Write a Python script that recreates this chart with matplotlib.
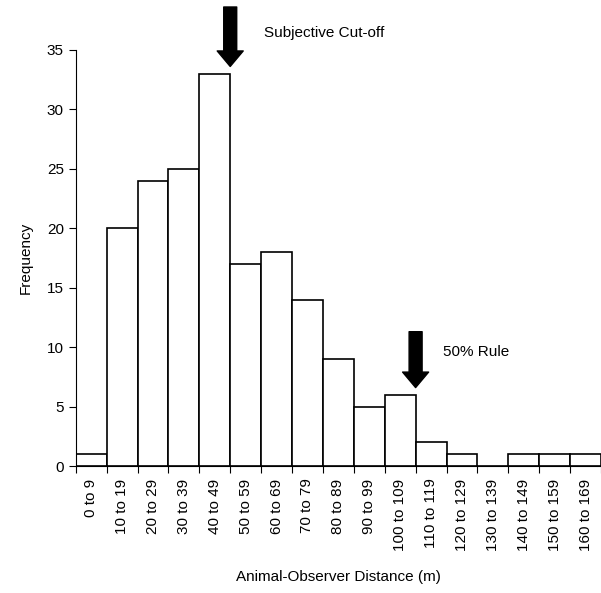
import matplotlib.pyplot as plt
import numpy as np

plt.rcParams['font.family'] = ['Liberation Sans', 'DejaVu Sans']

# bins and counts
bins = ['0 to 9', '10 to 19', '20 to 29', '30 to 39', '40 to 49', '50 to 59',
        '60 to 69', '70 to 79', '80 to 89', '90 to 99', '100 to 109',
        '110 to 119', '120 to 129', '130 to 139', '140 to 149', '150 to 159',
        '160 to 169']
counts = [1, 20, 24, 25, 33, 17, 18, 14, 9, 5, 6, 2, 1, 0, 1, 1, 1]

# arrows: (bin boundary, tip, tail) and labels
cutoff_arrow = (5, 33.6, 38.6)
rule_arrow = (11, 6.6, 11.3)

fig = plt.figure(figsize=(6.01, 5.93), dpi=100)
ax = fig.add_axes([0.126, 0.214, 0.874, 0.702])

pos = np.arange(len(bins))
ax.bar(pos, counts, width=1, align='edge', color='white', edgecolor='black',
       linewidth=1.2)

ax.set_xlim(0, len(bins))
ax.set_ylim(0, 35)
ax.set_yticks(np.arange(0, 36, 5))
ax.set_xticks(np.arange(len(bins) + 1))
ax.set_xticklabels([])
ax.set_xticks(pos + 0.5, minor=True)
ax.set_xticklabels(bins, minor=True, rotation=90, fontsize=11)
ax.tick_params(axis='x', which='minor', length=0, pad=9)
ax.tick_params(axis='x', which='major', length=5, direction='out')
ax.tick_params(axis='y', length=5, direction='out', labelsize=11)
ax.spines['top'].set_visible(False)
ax.spines['right'].set_visible(False)

ax.set_ylabel('Frequency', fontsize=11, labelpad=10)
ax.set_xlabel('Animal-Observer Distance (m)', fontsize=11, labelpad=14)

for (xb, tip, tail) in [cutoff_arrow, rule_arrow]:
    ax.annotate('', xy=(xb, tip), xytext=(xb, tail), annotation_clip=False,
                arrowprops=dict(arrowstyle='simple,head_length=0.62,head_width=1.04,tail_width=0.52',
                                color='black', mutation_scale=18, shrinkA=0, shrinkB=0))

ax.text(6.1, 36.4, 'Subjective Cut-off', fontsize=11, va='center', ha='left',
        clip_on=False)
ax.text(11.9, 9.6, '50% Rule', fontsize=11, va='center', ha='left')

fig.savefig('out.png', dpi=100)
